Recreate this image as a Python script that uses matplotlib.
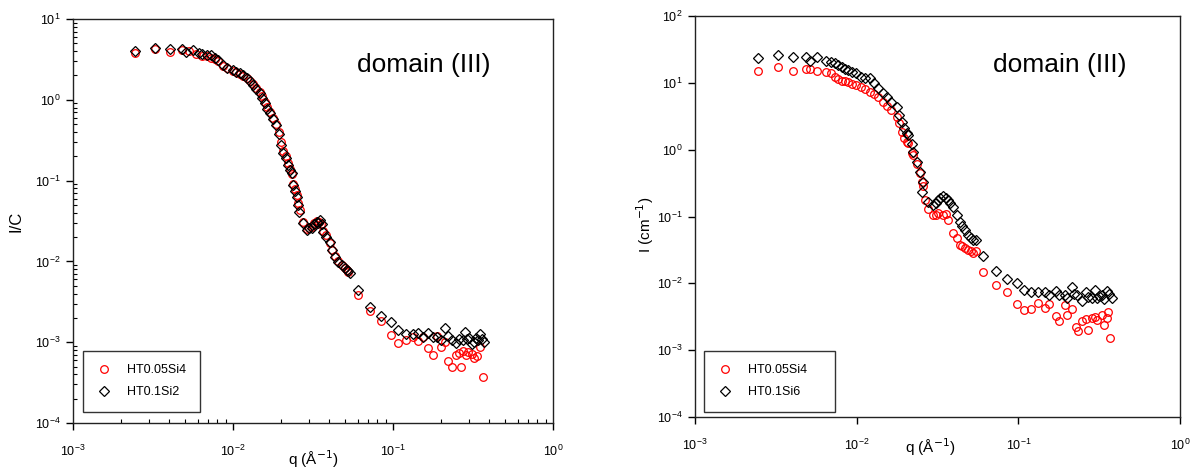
import numpy as np
import matplotlib
matplotlib.use("Agg")
import matplotlib.pyplot as plt
from matplotlib.ticker import LogLocator, NullLocator

plt.rcParams['font.family'] = ['Liberation Sans', 'DejaVu Sans']

# ---- left panel: I/C ----
qL_a = [2.44e-3, 3.25e-3, 4.04e-3, 4.82e-3, 5.3e-3, 5.9e-3, 6.43e-3, 6.9e-3, 7.3e-3, 7.7e-3,
        8.1e-3, 8.7e-3, 9.2e-3, 1.0e-2, 1.05e-2, 1.1e-2, 1.16e-2, 1.22e-2, 1.28e-2, 1.34e-2,
        1.4e-2, 1.47e-2, 1.52e-2, 1.58e-2, 1.64e-2, 1.7e-2, 1.78e-2, 1.87e-2, 1.93e-2, 2.0e-2,
        2.06e-2, 2.13e-2, 2.2e-2, 2.27e-2, 2.33e-2, 2.38e-2, 2.45e-2, 2.5e-2, 2.56e-2, 2.62e-2,
        2.72e-2, 2.88e-2, 3.0e-2, 3.1e-2, 3.22e-2, 3.34e-2, 3.45e-2, 3.55e-2, 3.65e-2, 3.8e-2,
        4.04e-2, 4.14e-2, 4.34e-2, 4.55e-2, 4.78e-2, 5.0e-2, 5.13e-2, 5.26e-2,
        6.07e-2, 7.18e-2, 8.37e-2, 9.68e-2, 0.108, 0.12, 0.133, 0.144, 0.155, 0.166, 0.177,
        0.188, 0.2, 0.211, 0.222, 0.235, 0.248, 0.257, 0.266, 0.275, 0.285, 0.295, 0.31,
        0.32, 0.335, 0.35, 0.363]
IL_a = [3.8, 4.3, 3.87, 4.1, 4.05, 3.7, 3.5, 3.45, 3.3, 3.2,
        3.0, 2.65, 2.45, 2.3, 2.2, 2.1, 1.95, 1.85, 1.72, 1.55,
        1.4, 1.25, 1.1, 0.95, 0.82, 0.7, 0.6, 0.5, 0.4, 0.3,
        0.23, 0.2, 0.165, 0.14, 0.12, 0.092, 0.078, 0.066, 0.053, 0.043,
        0.031, 0.025, 0.026, 0.027, 0.03, 0.032, 0.031, 0.029, 0.024, 0.021,
        0.017, 0.014, 0.0117, 0.0101, 0.0091, 0.0083, 0.0078, 0.0073,
        0.0038, 0.00245, 0.00185, 0.00123, 0.00099, 0.00107, 0.00116, 0.00104, 0.00116, 0.00084, 0.000695,
        0.0012, 0.00087, 0.001, 0.00058, 0.0005, 0.000695, 0.00074, 0.0005, 0.00077, 0.0007, 0.00075, 0.00072,
        0.00063, 0.00068, 0.00088, 0.00037]

qL_b = [2.44e-3, 3.25e-3, 4.04e-3, 4.82e-3, 5.1e-3, 5.65e-3, 6.1e-3, 6.43e-3, 6.9e-3, 7.3e-3,
        7.7e-3, 8.1e-3, 8.7e-3, 9.2e-3, 1.0e-2, 1.05e-2, 1.1e-2, 1.16e-2, 1.22e-2, 1.28e-2,
        1.34e-2, 1.4e-2, 1.47e-2, 1.52e-2, 1.58e-2, 1.64e-2, 1.7e-2, 1.78e-2, 1.87e-2, 1.93e-2,
        2.0e-2, 2.06e-2, 2.13e-2, 2.2e-2, 2.27e-2, 2.33e-2, 2.38e-2, 2.45e-2, 2.5e-2, 2.56e-2,
        2.6e-2, 2.72e-2, 2.88e-2, 3.0e-2, 3.1e-2, 3.22e-2, 3.34e-2, 3.42e-2, 3.5e-2, 3.6e-2,
        3.65e-2, 3.8e-2, 4.04e-2, 4.14e-2, 4.34e-2, 4.55e-2, 4.78e-2, 5.0e-2, 5.13e-2, 5.26e-2, 5.4e-2,
        6.07e-2, 7.18e-2, 8.37e-2, 9.68e-2, 0.108, 0.12, 0.133, 0.144, 0.155, 0.166, 0.177,
        0.188, 0.2, 0.211, 0.222, 0.235, 0.248, 0.26, 0.272, 0.282, 0.29, 0.30, 0.31,
        0.32, 0.33, 0.34, 0.35, 0.36, 0.37]
IL_b = [4.05, 4.4, 4.2, 4.25, 3.94, 4.13, 3.8, 3.66, 3.55, 3.58,
        3.3, 3.1, 2.7, 2.5, 2.34, 2.2, 2.13, 2.0, 1.88, 1.7,
        1.52, 1.35, 1.2, 1.05, 0.9, 0.78, 0.68, 0.58, 0.49, 0.38,
        0.276, 0.218, 0.19, 0.156, 0.135, 0.123, 0.088, 0.075, 0.063, 0.05,
        0.041, 0.0297, 0.0245, 0.026, 0.0257, 0.029, 0.031, 0.030, 0.0325, 0.029,
        0.0234, 0.0203, 0.0175, 0.0139, 0.0114, 0.0099, 0.009, 0.0083, 0.0078, 0.0075, 0.0071,
        0.0044, 0.00275, 0.00211, 0.0018, 0.0014, 0.00128, 0.00128, 0.0013, 0.00116, 0.0013, 0.00115,
        0.00116, 0.00107, 0.00148, 0.00118, 0.00105, 0.00098, 0.0011, 0.00105, 0.00133, 0.0011, 0.00113, 0.00095,
        0.001, 0.00113, 0.00105, 0.00128, 0.0011, 0.001]

# ---- right panel: I (cm-1) ----
qR_a = [2.44e-3, 3.24e-3, 4.05e-3, 4.84e-3, 5.15e-3, 5.66e-3, 6.5e-3, 6.9e-3, 7.3e-3, 7.7e-3,
        8.1e-3, 8.5e-3, 8.9e-3, 9.4e-3, 9.86e-3, 1.06e-2, 1.13e-2, 1.21e-2, 1.28e-2, 1.36e-2,
        1.45e-2, 1.53e-2, 1.64e-2, 1.77e-2, 1.84e-2, 1.9e-2, 1.97e-2, 2.04e-2, 2.09e-2, 2.19e-2,
        2.24e-2, 2.35e-2, 2.47e-2, 2.53e-2, 2.58e-2, 2.65e-2, 2.77e-2, 2.98e-2, 3.1e-2, 3.2e-2,
        3.43e-2, 3.55e-2, 3.69e-2, 3.93e-2, 4.15e-2, 4.35e-2, 4.5e-2, 4.67e-2, 4.9e-2, 5.1e-2,
        5.26e-2, 5.5e-2,
        6.07e-2, 7.27e-2, 8.55e-2, 9.76e-2, 0.109, 0.12, 0.133, 0.146, 0.155, 0.171, 0.179,
        0.194, 0.2, 0.214, 0.227, 0.235, 0.246, 0.262, 0.27, 0.284, 0.298, 0.306, 0.327,
        0.34, 0.352, 0.36, 0.368]
IR_a = [15.0, 17.4, 15.0, 16.1, 16.0, 15.0, 14.6, 14.0, 12.3, 11.5,
        10.6, 10.8, 10.3, 9.6, 9.3, 8.7, 8.0, 7.4, 6.8, 6.2,
        5.2, 4.5, 3.9, 3.1, 2.5, 1.85, 1.5, 1.32, 1.24, 0.88,
        0.83, 0.62, 0.44, 0.33, 0.29, 0.176, 0.13, 0.105, 0.105, 0.112,
        0.105, 0.11, 0.089, 0.056, 0.047, 0.037, 0.036, 0.034, 0.031, 0.030,
        0.028, 0.03,
        0.0148, 0.0096, 0.0073, 0.0049, 0.004, 0.0041, 0.0051, 0.0043, 0.0049, 0.0033, 0.00275,
        0.0047, 0.0034, 0.0041, 0.0022, 0.00195, 0.00275, 0.0029, 0.002, 0.003, 0.0031, 0.0028, 0.0034,
        0.0024, 0.003, 0.0037, 0.0015]

qR_b = [2.44e-3, 3.24e-3, 4.05e-3, 4.84e-3, 5.15e-3, 5.66e-3, 6.5e-3, 6.9e-3, 7.3e-3, 7.7e-3,
        8.1e-3, 8.5e-3, 8.9e-3, 9.4e-3, 9.86e-3, 1.06e-2, 1.13e-2, 1.21e-2, 1.28e-2, 1.36e-2,
        1.45e-2, 1.53e-2, 1.64e-2, 1.77e-2, 1.84e-2, 1.9e-2, 1.97e-2, 2.04e-2, 2.09e-2, 2.19e-2,
        2.24e-2, 2.35e-2, 2.47e-2, 2.53e-2, 2.58e-2, 2.77e-2, 2.98e-2, 3.1e-2, 3.2e-2, 3.3e-2,
        3.43e-2, 3.55e-2, 3.69e-2, 3.8e-2, 3.93e-2, 4.15e-2, 4.35e-2, 4.5e-2, 4.67e-2, 4.9e-2,
        5.1e-2, 5.26e-2, 5.5e-2,
        6.07e-2, 7.27e-2, 8.55e-2, 9.76e-2, 0.109, 0.12, 0.133, 0.146, 0.155, 0.171, 0.179,
        0.194, 0.2, 0.214, 0.222, 0.231, 0.246, 0.262, 0.27, 0.284, 0.298, 0.306, 0.315,
        0.327, 0.34, 0.352, 0.365, 0.378]
IR_b = [23.3, 26.0, 24.5, 24.5, 21.2, 24.0, 21.2, 20.5, 19.6, 18.5,
        17.4, 16.3, 15.5, 14.5, 13.9, 12.3, 12.0, 11.7, 9.8, 8.3,
        7.1, 6.2, 5.2, 4.4, 3.3, 2.55, 2.1, 1.75, 1.65, 1.2,
        0.93, 0.66, 0.47, 0.234, 0.33, 0.166, 0.148, 0.16, 0.176, 0.19,
        0.2, 0.19, 0.176, 0.16, 0.14, 0.105, 0.083, 0.072, 0.063, 0.053,
        0.048, 0.044, 0.044,
        0.026, 0.0155, 0.0115, 0.0102, 0.0079, 0.0075, 0.0075, 0.0075, 0.0066, 0.0077, 0.0066,
        0.0066, 0.006, 0.0089, 0.0069, 0.0066, 0.0055, 0.0075, 0.0062, 0.006, 0.0079, 0.006, 0.0065,
        0.0066, 0.0058, 0.0077, 0.007, 0.006]

fig = plt.figure(figsize=(11.91, 4.68), dpi=100)
axL = fig.add_axes([73/1191, 45/468, 480/1191, 404/468])
axR = fig.add_axes([695/1191, 51/468, 485/1191, 401/468])


def style(ax, ymin, ymax, minor):
    ax.set_xscale('log')
    ax.set_yscale('log')
    ax.set_xlim(1e-3, 1)
    ax.set_ylim(ymin, ymax)
    ax.xaxis.set_major_locator(LogLocator(base=10, numticks=10))
    ax.yaxis.set_major_locator(LogLocator(base=10, numticks=10))
    if minor:
        ax.xaxis.set_minor_locator(LogLocator(base=10, subs=np.arange(2, 10), numticks=20))
        ax.yaxis.set_minor_locator(LogLocator(base=10, subs=np.arange(2, 10), numticks=20))
    else:
        ax.xaxis.set_minor_locator(NullLocator())
        ax.yaxis.set_minor_locator(NullLocator())
    ax.tick_params(which='major', direction='out', length=5, width=1, labelsize=9, colors='black')
    ax.tick_params(axis='x', which='major', pad=10)
    ax.tick_params(axis='y', which='major', pad=4)
    ax.tick_params(which='minor', direction='in', length=3, width=0.8)
    for s in ax.spines.values():
        s.set_linewidth(1.0)
        s.set_color('#222222')


style(axL, 1e-4, 1e1, True)
style(axR, 1e-4, 1e2, False)

axL.plot(qL_a, IL_a, 'o', ms=5.5, mfc='none', mec='red', mew=0.9, label='HT0.05Si4')
axL.plot(qL_b, IL_b, 'D', ms=4.8, mfc='none', mec='black', mew=0.9, label='HT0.1Si2')
axR.plot(qR_a, IR_a, 'o', ms=5.5, mfc='none', mec='red', mew=0.9, label='HT0.05Si4')
axR.plot(qR_b, IR_b, 'D', ms=5.0, mfc='none', mec='black', mew=0.9,
         label='HT0.1Si6' + '\u00a0' * 6)

axL.set_ylabel('I/C', fontsize=12)
axL.yaxis.set_label_coords(-0.103, 0.5)
axL.set_xlabel('q (Å$^{-1}$)', fontsize=11)
axL.xaxis.set_label_coords(0.50, -0.062)
axR.set_ylabel('I (cm$^{-1}$)', fontsize=11)
axR.yaxis.set_label_coords(-0.080, 0.48)
axR.set_xlabel('q (Å$^{-1}$)', fontsize=11)
axR.xaxis.set_label_coords(0.485, -0.047)

axL.text(0.73, 0.886, 'domain (III)', transform=axL.transAxes, fontsize=19, ha='center', va='center')
axR.text(0.753, 0.878, 'domain (III)', transform=axR.transAxes, fontsize=19, ha='center', va='center')

for ax, anchor in [(axL, (0.021, 0.027)), (axR, (0.019, 0.012))]:
    leg = ax.legend(loc='lower left', bbox_to_anchor=anchor, borderaxespad=0, fontsize=9,
                    frameon=True, fancybox=False, edgecolor='black', borderpad=1.1,
                    labelspacing=0.8, handlelength=1.2, handletextpad=1.2)
    leg.get_frame().set_linewidth(1.0)

fig.savefig('out.png', dpi=100)
